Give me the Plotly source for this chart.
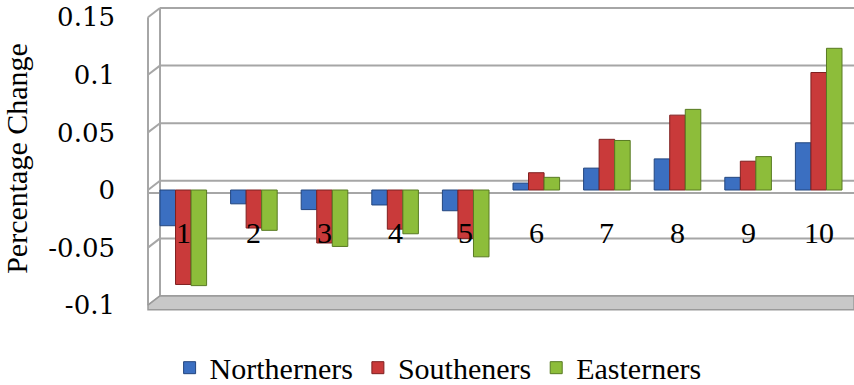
import plotly.graph_objects as go

# Decile groups and percentage change per population group
categories = ["1", "2", "3", "4", "5", "6", "7", "8", "9", "10"]
northerners = [-0.031, -0.012, -0.017, -0.013, -0.018, 0.006, 0.019, 0.027, 0.011, 0.041]
southeners = [-0.082, -0.033, -0.046, -0.034, -0.042, 0.015, 0.044, 0.065, 0.025, 0.102]
easterners = [-0.083, -0.035, -0.049, -0.038, -0.058, 0.011, 0.043, 0.070, 0.029, 0.123]
tick_vals = [-0.1, -0.05, 0, 0.05, 0.1, 0.15]
tick_text = ["-0.1", "-0.05", "0", "0.05", "0.1", "0.15"]

FONT = "Liberation Serif"
TICK_FONT = "DejaVu Serif"
GRID = "#a6a6a6"
DEPTH_X = 0.017   # horizontal depth of the left wall, paper units
DEPTH_Y = 0.008   # vertical offset of the back wall, data units

series = [
    ("Northerners", northerners, "#3b6fc1", "#23467f"),
    ("Southeners", southeners, "#c93a3a", "#7f2020"),
    ("Easterners", easterners, "#8dbd3a", "#587a22"),
]

fig = go.Figure()
for name, vals, fill, edge in series:
    fig.add_trace(go.Bar(
        x=categories, y=vals, name=name,
        marker=dict(color=fill, line=dict(color=edge, width=1)),
    ))

shapes = []
# back-wall gridlines and the slanted left-wall edges
for v in tick_vals:
    shapes.append(dict(type="line", xref="paper", yref="y", layer="below",
                       x0=DEPTH_X, x1=1, y0=v + DEPTH_Y, y1=v + DEPTH_Y,
                       line=dict(color=GRID, width=2)))
    shapes.append(dict(type="line", xref="paper", yref="y", layer="below",
                       x0=0, x1=DEPTH_X, y0=v, y1=v + DEPTH_Y,
                       line=dict(color=GRID, width=2)))
# left wall verticals
shapes.append(dict(type="line", xref="paper", yref="y", layer="below",
                   x0=0, x1=0, y0=min(tick_vals), y1=max(tick_vals),
                   line=dict(color=GRID, width=2)))
shapes.append(dict(type="line", xref="paper", yref="y", layer="below",
                   x0=DEPTH_X, x1=DEPTH_X, y0=min(tick_vals) + DEPTH_Y,
                   y1=max(tick_vals) + DEPTH_Y,
                   line=dict(color=GRID, width=2)))
# front edge of the zero plane
shapes.append(dict(type="line", xref="paper", yref="y", layer="below",
                   x0=0, x1=1, y0=-0.0025, y1=-0.0025,
                   line=dict(color=GRID, width=2)))
# floor slab
lo = min(tick_vals)
shapes.append(dict(type="path", xref="paper", yref="y", layer="below",
                   path=f"M 0 {lo} L {DEPTH_X} {lo + DEPTH_Y} L 1 {lo + DEPTH_Y} L 1 {lo - 0.004} L 0 {lo - 0.004} Z",
                   fillcolor="#c8c8c8", line=dict(color="#9a9a9a", width=1.5)))

# category labels sit inside the plot, just below the zero plane
annotations = [
    dict(x=i, y=-0.037, xref="x", yref="y", text=c, showarrow=False,
         font=dict(family=FONT, size=30, color="black"))
    for i, c in enumerate(categories)
]

fig.update_layout(
    width=854, height=385,
    margin=dict(l=148, r=0, t=5, b=73),
    paper_bgcolor="white", plot_bgcolor="white",
    barmode="group", bargap=0.34, bargroupgap=0.0,
    shapes=shapes, annotations=annotations,
    showlegend=True,
    legend=dict(orientation="h", xref="container", yref="container",
                x=0.513, y=0.045, xanchor="center", yanchor="middle",
                font=dict(family=FONT, size=30, color="black"), itemwidth=30,
                tracegroupgap=0),
    xaxis=dict(type="category", showticklabels=False, showgrid=False,
               zeroline=False, showline=False, ticks=""),
    yaxis=dict(range=[-0.1059, 0.1606], tickvals=tick_vals, ticktext=tick_text,
               showgrid=False, zeroline=False, showline=False, ticks="",
               ticklabelstandoff=32,
               tickfont=dict(family=TICK_FONT, size=26, color="black"),
               title=dict(text="Percentage Change", standoff=14,
                          font=dict(family=FONT, size=30, color="black"))),
)

fig.write_html("out.html")
